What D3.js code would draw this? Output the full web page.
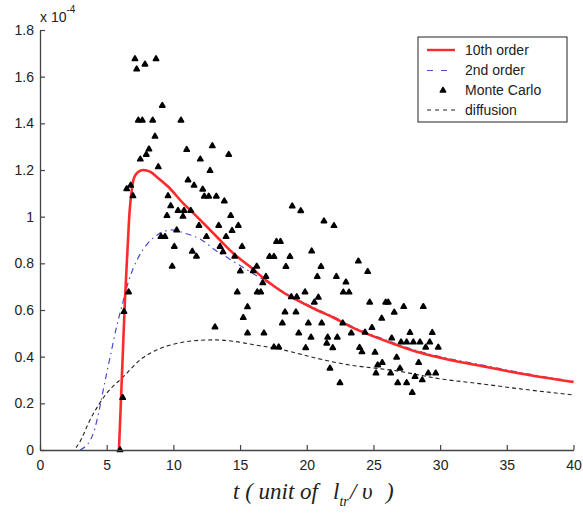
<!DOCTYPE html>
<html><head><meta charset="utf-8">
<script src="https://cdn.jsdelivr.net/npm/d3@7"></script>
<style>body{margin:0;background:#fff}</style>
</head><body>
<svg id="c" width="583" height="517"></svg>
<script>
// ---- data ----
const xTicks = [0, 5, 10, 15, 20, 25, 30, 35, 40];
const yTicks = [0, 0.2, 0.4, 0.6, 0.8, 1, 1.2, 1.4, 1.6, 1.8];
const yTickLabels = ["0", "0.2", "0.4", "0.6", "0.8", "1", "1.2", "1.4", "1.6", "1.8"];
const seriesNames = ["10th order", "2nd order", "Monte Carlo", "diffusion"];
const xLabel = ["t ( unit of", "l", "tr", "/", "\u03c5", ")"];
const yExponent = ["x 10", "-4"];

const order10T = [5.92, 6.07, 6.22, 6.37, 6.56, 6.71, 6.88, 7.05, 7.35, 7.75, 8.25, 8.85, 9.62, 10.74, 11.25, 12.75, 13.25, 14.49, 15.74, 17.0, 18.24, 19.49, 20.75, 21.99, 23.24, 25.74, 28.24, 30.74, 32.99, 36.0, 40.0];
const order10Y = [0, 0.214, 0.429, 0.643, 0.857, 1.016, 1.114, 1.166, 1.191, 1.20, 1.193, 1.166, 1.128, 1.057, 1.029, 0.943, 0.914, 0.843, 0.786, 0.725, 0.675, 0.636, 0.600, 0.568, 0.530, 0.471, 0.421, 0.386, 0.361, 0.328, 0.291];

const order2T = [3.0, 3.4, 3.8, 4.1, 4.4, 4.7, 5.0, 5.3, 5.75, 6.13, 6.62, 7.37, 8.0, 8.87, 9.87, 10.87, 12.12, 13.12, 14.12, 15.12, 16.5, 18.24, 19.49, 20.75, 22.0, 23.24, 25.74, 28.24, 30.74, 33.0, 36.0, 40.0];
const order2Y = [0, 0.015, 0.045, 0.09, 0.16, 0.245, 0.33, 0.41, 0.53, 0.615, 0.72, 0.825, 0.88, 0.925, 0.943, 0.929, 0.90, 0.857, 0.822, 0.786, 0.738, 0.678, 0.640, 0.604, 0.572, 0.534, 0.476, 0.426, 0.391, 0.366, 0.332, 0.294];

const diffT = [2.7, 2.95, 3.75, 5.0, 6.25, 7.5, 8.75, 10.0, 11.5, 13.0, 14.5, 15.74, 18.24, 20.75, 23.24, 25.24, 26.5, 30.24, 32.74, 36.0, 40.0];
const diffY = [0.01, 0.031, 0.129, 0.243, 0.314, 0.386, 0.429, 0.453, 0.468, 0.472, 0.466, 0.454, 0.429, 0.393, 0.364, 0.350, 0.341, 0.303, 0.286, 0.262, 0.236];

const mcT = [7.12, 7.87, 7.25, 8.70, 9.17, 7.37, 7.67, 8.45, 10.57, 8.62, 8.17, 7.97, 7.52, 8.87, 11.0, 12.92, 12.02, 14.15, 12.75, 11.10,
  11.55, 12.20, 6.80, 6.50, 6.97, 12.32, 12.65, 13.22, 13.82, 9.60, 9.80, 10.35, 10.80, 11.30, 9.52, 10.72, 14.30, 13.40, 14.87, 11.92,
  14.40, 10.25, 9.07, 9.37, 12.48, 13.95, 10.07, 13.50, 15.15, 11.42, 11.73, 13.72, 14.60, 9.91, 16.25, 18.91, 19.55, 17.73, 18.03, 17.21,
  17.54, 18.74, 18.44, 15.02, 6.64, 14.79, 6.30, 15.24, 13.12, 21.29, 22.04, 20.37, 15.99, 21.07, 23.87, 24.57, 16.94, 16.70, 20.79, 22.22,
  22.94, 16.29, 16.55, 22.74, 23.17, 19.87, 18.84, 19.25, 20.87, 20.57, 24.72, 15.56, 18.37, 19.19, 18.17, 20.12, 21.12, 22.70, 24.89, 15.56,
  16.79, 19.40, 23.34, 20.32, 21.57, 22.29, 21.50, 19.92, 21.95, 23.96, 17.54, 17.90, 24.14, 25.12, 25.32, 25.19, 21.74, 22.49, 25.92, 26.11,
  27.27, 28.74, 26.56, 25.62, 24.37, 27.74, 29.41, 26.37, 27.07, 27.49, 27.99, 28.49, 29.22, 28.92, 29.86, 26.74, 28.39, 25.66, 26.99, 26.29,
  28.12, 29.11, 29.67, 26.82, 27.49, 28.66, 27.91, 6.20, 6.00];
const mcY = [1.676, 1.653, 1.632, 1.676, 1.476, 1.413, 1.413, 1.413, 1.413, 1.344, 1.289, 1.266, 1.246, 1.213, 1.287, 1.303, 1.246, 1.266, 1.197, 1.157,
  1.134, 1.117, 1.134, 1.119, 1.089, 1.087, 1.087, 1.087, 1.067, 1.089, 1.046, 1.026, 1.026, 1.026, 1.004, 1.001, 1.004, 0.962, 0.962, 0.962,
  0.940, 0.942, 0.914, 0.914, 0.914, 0.914, 0.872, 0.872, 0.872, 0.851, 0.830, 0.849, 0.830, 0.787, 0.787, 1.045, 1.025, 0.893, 0.893, 0.829,
  0.829, 0.829, 0.786, 0.767, 0.677, 0.677, 0.593, 0.567, 0.527, 0.981, 0.961, 0.852, 0.768, 0.786, 0.809, 0.764, 0.743, 0.716, 0.743, 0.743,
  0.719, 0.677, 0.677, 0.676, 0.676, 0.677, 0.656, 0.656, 0.654, 0.633, 0.633, 0.613, 0.591, 0.591, 0.544, 0.544, 0.544, 0.544, 0.524, 0.501,
  0.501, 0.501, 0.501, 0.483, 0.483, 0.483, 0.457, 0.438, 0.438, 0.439, 0.441, 0.441, 0.420, 0.418, 0.364, 0.329, 0.350, 0.288, 0.633, 0.633,
  0.614, 0.614, 0.590, 0.564, 0.504, 0.503, 0.503, 0.479, 0.462, 0.462, 0.462, 0.462, 0.462, 0.440, 0.440, 0.397, 0.374, 0.374, 0.350, 0.329,
  0.314, 0.329, 0.329, 0.288, 0.288, 0.300, 0.246, 0.224, 0.00];

// ---- chart ----
const svg = d3.select("#c");
const font = "'Liberation Sans', Arial, sans-serif";
const x = d3.scaleLinear().domain([0, 40]).range([40, 573.5]);
const y = d3.scaleLinear().domain([0, 1.8]).range([450, 30]);

const red = "#ff2b2b", blue = "#4b4bcf", dark = "#222";

const line = (T, Y) => d3.line().x((d, i) => x(T[i])).y((d, i) => y(Y[i])).curve(d3.curveMonotoneX)(T);

// diffusion
svg.append("path").attr("d", line(diffT, diffY)).attr("fill", "none")
  .attr("stroke", dark).attr("stroke-width", 1.1).attr("stroke-dasharray", "4,3");
// 2nd order
svg.append("path").attr("d", line(order2T, order2Y)).attr("fill", "none")
  .attr("stroke", blue).attr("stroke-width", 1.2).attr("stroke-dasharray", "6,4,1.5,4");
// 10th order
svg.append("path").attr("d", line(order10T, order10Y)).attr("fill", "none")
  .attr("stroke", red).attr("stroke-width", 2.6).attr("stroke-linejoin", "round");

// Monte Carlo
const tri = d3.symbol().type(d3.symbolTriangle).size(11);
svg.append("g").selectAll("path").data(mcT).join("path")
  .attr("transform", (d, i) => `translate(${x(mcT[i])},${y(mcY[i])})`)
  .attr("d", tri).attr("fill", "#000").attr("stroke", "#000")
  .attr("stroke-width", 1.8).attr("stroke-linejoin", "round");

// axes
const xAxis = svg.append("g").attr("transform", "translate(0,450)")
  .call(d3.axisBottom(x).tickValues(xTicks).tickFormat(d3.format("d")).tickSizeInner(-5).tickSizeOuter(0).tickPadding(10));
const yAxis = svg.append("g").attr("transform", "translate(40,0)")
  .call(d3.axisLeft(y).tickValues(yTicks).tickFormat((d, i) => yTickLabels[i]).tickSizeInner(-5).tickSizeOuter(0).tickPadding(6));
[xAxis, yAxis].forEach(g => {
  g.selectAll("path.domain").attr("stroke", "#444").attr("stroke-width", 1.3);
  g.selectAll(".tick line").attr("stroke", "#444").attr("stroke-width", 1.2);
  g.selectAll("text").attr("font-family", font).attr("font-size", 14).attr("fill", "#222");
});

// exponent
const ex = svg.append("text").attr("x", 40).attr("y", 22).attr("font-family", font)
  .attr("font-size", 14).attr("fill", "#222");
ex.append("tspan").text(yExponent[0]);
ex.append("tspan").attr("dy", -9).attr("font-size", 10).text(yExponent[1]);

// x label
const xl = svg.append("text").attr("x", 233).attr("y", 499)
  .attr("font-family", "'Liberation Serif', 'Times New Roman', serif").attr("font-style", "italic")
  .attr("font-size", 23).attr("fill", "#222");
xl.append("tspan").text(xLabel[0]);
xl.append("tspan").attr("x", 333).text(xLabel[1]);
xl.append("tspan").attr("dy", 7).attr("font-size", 14).text(xLabel[2]);
xl.append("tspan").attr("x", 350).attr("dy", -7).text(xLabel[3]);
xl.append("tspan").attr("x", 362).text(xLabel[4]);
xl.append("tspan").attr("x", 386).text(xLabel[5]);

// legend
const lg = svg.append("g");
lg.append("rect").attr("x", 418).attr("y", 37).attr("width", 149).attr("height", 85)
  .attr("fill", "#fff").attr("stroke", "#222").attr("stroke-width", 1);
const rows = [50, 70.5, 90.5, 110];
const styles = [
  {stroke: red, w: 2.4, dash: null},
  {stroke: blue, w: 1.2, dash: "6,8"},
  null,
  {stroke: dark, w: 1.1, dash: "4,4"}
];
seriesNames.forEach((name, i) => {
  const s = styles[i];
  if (s) {
    lg.append("line").attr("x1", 427).attr("x2", 455).attr("y1", rows[i]).attr("y2", rows[i])
      .attr("stroke", s.stroke).attr("stroke-width", s.w).attr("stroke-dasharray", s.dash);
  } else {
    lg.append("path").attr("transform", `translate(443,${rows[i]})`).attr("d", tri)
      .attr("fill", "#000").attr("stroke", "#000").attr("stroke-width", 1.8).attr("stroke-linejoin", "round");
  }
  lg.append("text").attr("x", 465).attr("y", rows[i]).attr("dy", "0.35em")
    .attr("font-family", font).attr("font-size", 14).attr("fill", "#222").text(name);
});
</script>
</body></html>
